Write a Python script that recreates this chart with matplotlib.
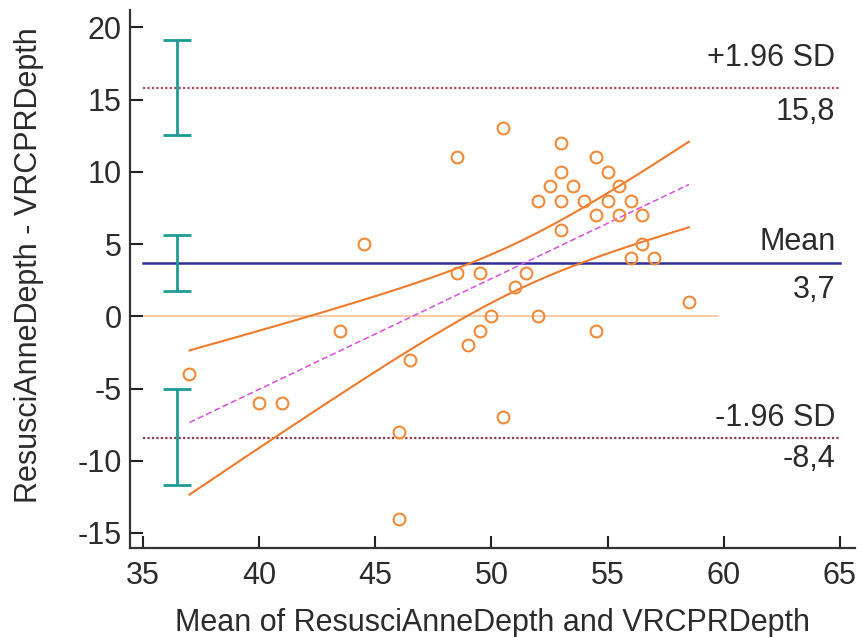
import numpy as np
import matplotlib
matplotlib.use("Agg")
import matplotlib.pyplot as plt

plt.rcParams['font.family'] = ['Liberation Sans', 'DejaVu Sans']
plt.rcParams['axes.unicode_minus'] = False

# ---- data ----
mean_x = [37, 40, 41, 43.5, 44.5, 46.5, 46, 46, 48.5, 48.5, 49, 49.5, 49.5, 50,
          50.5, 50.5, 51, 51.5, 52, 52, 52.5, 53, 53, 53, 53, 53.5, 54, 54.5,
          54.5, 54.5, 55, 55, 55.5, 55.5, 56, 56, 56.5, 56.5, 57, 58.5]
diff_y = [-4, -6, -6, -1, 5, -3, -8, -14, 11, 3, -2, 3, -1, 0,
          13, -7, 2, 3, 8, 0, 9, 12, 10, 8, 6, 9, 8, 11,
          7, -1, 10, 8, 9, 7, 8, 4, 7, 5, 4, 1]

mean_diff = 3.7
upper_loa = 15.8
lower_loa = -8.4
limit_values = [upper_loa, mean_diff, lower_loa]
ci_low = [12.55, 1.75, -11.65]
ci_high = [19.1, 5.6, -5.05]
limit_names = ['+1.96 SD', 'Mean', '-1.96 SD']
limit_texts = ['15,8', '3,7', '-8,4']
ci_x = 36.45
zero_span = [35, 59.75]
line_span = [35, 65]

xticks = [35, 40, 45, 50, 55, 60, 65]
yticks = [-15, -10, -5, 0, 5, 10, 15, 20]
t_crit = 2.024  # t(0.975, 38)

# ---- figure ----
fig = plt.figure(figsize=(8.62, 6.37), dpi=100)
ax = fig.add_axes([130/862, 1-548/637, (855-130)/862, (548-10)/637])
ax.set_xlim(34.44, 65.65)
ax.set_ylim(-16.04, 21.2)

txt = '#2b2b2b'
fs = 22

# zero line
ax.plot(zero_span, [0, 0], color='#f6c7a4', lw=1.3, zorder=1)

# limits
ax.plot(line_span, [upper_loa]*2, color='#b54a5e', lw=1.6, ls=(0, (1, 1)), zorder=2)
ax.plot(line_span, [lower_loa]*2, color='#8a3a4a', lw=1.6, ls=(0, (1, 1)), zorder=2)
ax.plot(line_span, [mean_diff]*2, color='#2e2e96', lw=1.8, zorder=2)

# CI error bars
for lo, hi in zip(ci_low, ci_high):
    ax.errorbar([ci_x], [(lo+hi)/2], yerr=[[(hi-lo)/2], [(hi-lo)/2]], fmt='none',
                ecolor='#1f9a94', elinewidth=2, capsize=10.4, capthick=2, zorder=3)

# regression with confidence band
x = np.array(mean_x); y = np.array(diff_y)
slope, intercept = np.polyfit(x, y, 1)
n = len(x)
resid = y - (intercept + slope*x)
s = np.sqrt(np.sum(resid**2)/(n-2))
xm = x.mean(); sxx = np.sum((x-xm)**2)
xs = np.linspace(x.min(), x.max(), 200)
yh = intercept + slope*xs
hw = t_crit * s * np.sqrt(1/n + (xs-xm)**2/sxx)
ax.plot(xs, yh + hw, color='#f07a2c', lw=1.5, zorder=3)
ax.plot(xs, yh - hw, color='#f07a2c', lw=1.5, zorder=3)
ax.plot(xs, yh, color='#d94fe0', lw=1.1, ls=(0, (4, 2)), zorder=3)

# points
ax.plot(x, y, 'o', mfc='none', mec='#f08a3a', mew=1.5, ms=8.5, zorder=4)

# labels on limit lines
above_off = [15.8, 9.1, 8.6]
below_off = [6.5, 8.6, 4.3]
for val, name, t, ao, bo in zip(limit_values, limit_names, limit_texts, above_off, below_off):
    ax.annotate(name, xy=(64.8, val), xytext=(0, ao), textcoords='offset points',
                ha='right', va='baseline', fontsize=fs, color=txt)
    ax.annotate(t, xy=(64.8, val), xytext=(0, -bo), textcoords='offset points',
                ha='right', va='top', fontsize=fs, color=txt)

ax.set_xticks(xticks)
ax.set_yticks(yticks)
ax.tick_params(direction='in', length=9, width=1.5, labelsize=fs, colors='#222222',
               labelcolor=txt)
ax.tick_params(axis='y', pad=6)
ax.tick_params(axis='x', pad=9)
for sp in ['top', 'right']:
    ax.spines[sp].set_visible(False)
for sp in ['left', 'bottom']:
    ax.spines[sp].set_linewidth(1.6)
    ax.spines[sp].set_color('#333333')

ax.set_xlabel('Mean of ResusciAnneDepth and VRCPRDepth', fontsize=fs, color=txt)
ax.set_ylabel('ResusciAnneDepth - VRCPRDepth', fontsize=fs, color=txt)
ax.xaxis.set_label_coords(0.5, -0.1115)
ax.yaxis.set_label_coords(-0.118, 0.526)

fig.savefig('out.png', dpi=100)
